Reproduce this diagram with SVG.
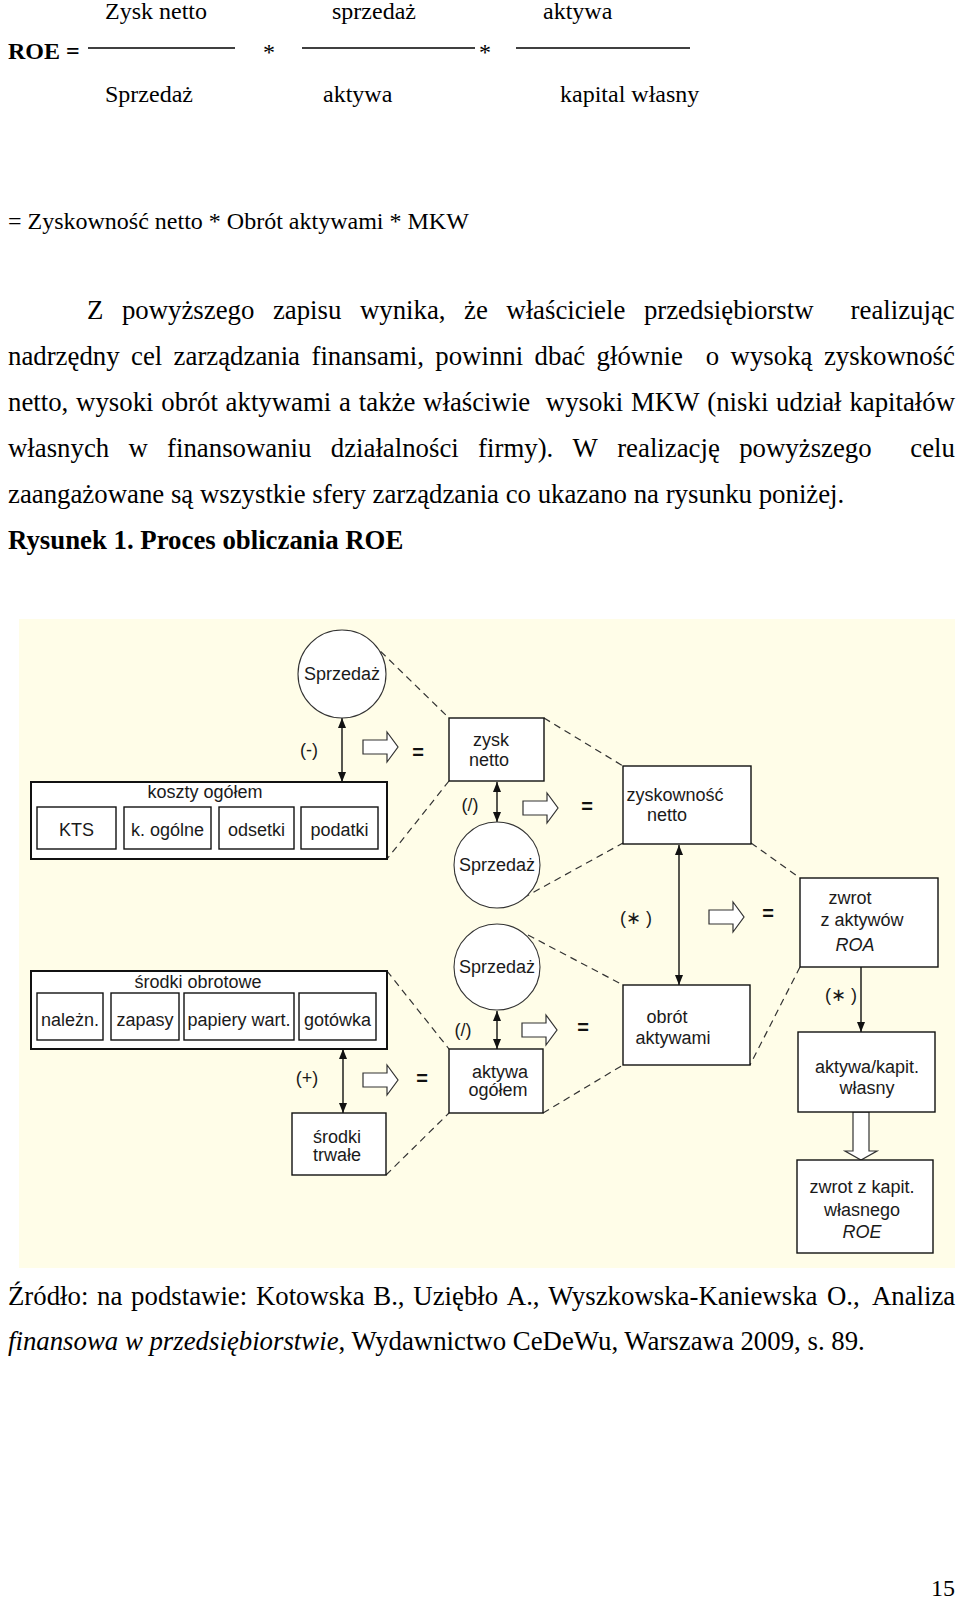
<svg xmlns="http://www.w3.org/2000/svg" width="960" height="1603" viewBox="0 0 960 1603">
<style>
.t{font-family:"Liberation Serif","Times New Roman",serif;font-size:24px;fill:#000}
.p{font-family:"Liberation Serif","Times New Roman",serif;font-size:26.8px;fill:#000}
.b{font-weight:bold}
.d{font-family:"Liberation Sans",Arial,sans-serif;font-size:18px;fill:#1a1a1a;text-anchor:middle}
.op{font-family:"Liberation Sans",Arial,sans-serif;font-size:18px;fill:#1a1a1a;text-anchor:middle}
.eq{font-family:"Liberation Sans",Arial,sans-serif;font-size:20px;font-weight:bold;fill:#111;text-anchor:middle}
.box{fill:#fff;stroke:#111;stroke-width:1.4}
.outer{fill:#fff;stroke:#111;stroke-width:2}
.circ{fill:#fff;stroke:#333;stroke-width:1.1}
.dash{stroke:#333;stroke-width:1.2;stroke-dasharray:7,5;fill:none}
.arr{stroke:#111;stroke-width:1.4;fill:none}
.hol{fill:#fff;stroke:#333;stroke-width:1.2}
</style>
<defs>
<marker id="ah" viewBox="0 0 10 8" refX="10" refY="4" markerWidth="10" markerHeight="8" markerUnits="userSpaceOnUse" orient="auto-start-reverse">
<path d="M0,0 L10,4 L0,8 Z" fill="#111"/>
</marker>
<path id="hr" d="M0,-7 H24 V-15 L35,0 L24,15 V7 H0 Z"/>
</defs>
<rect width="960" height="1603" fill="#fff"/>

<g id="formula">
<text class="t" x="105" y="19">Zysk netto</text>
<text class="t" x="332" y="19">sprzedaż</text>
<text class="t" x="543" y="19">aktywa</text>
<text class="t b" x="8" y="59">ROE =</text>
<line x1="88" y1="48" x2="235" y2="48" stroke="#000" stroke-width="1.6"/>
<text class="t" x="263" y="60">*</text>
<line x1="302" y1="48" x2="475" y2="48" stroke="#000" stroke-width="1.6"/>
<text class="t" x="479" y="60">*</text>
<line x1="516" y1="48" x2="690" y2="48" stroke="#000" stroke-width="1.6"/>
<text class="t" x="105" y="102">Sprzedaż</text>
<text class="t" x="323" y="102">aktywa</text>
<text class="t" x="560" y="102">kapital własny</text>
<text class="t" x="8" y="229" font-size="24.5">= Zyskowność netto * Obrót aktywami * MKW</text>
</g>

<g id="paragraph">
<text class="p" y="319"><tspan x="87">Z</tspan><tspan x="121.9">powyższego</tspan><tspan x="272.9">zapisu</tspan><tspan x="359.9">wynika,</tspan><tspan x="464">że</tspan><tspan x="506.3">właściciele</tspan><tspan x="643.9">przedsiębiorstw</tspan><tspan x="850.6">realizując</tspan></text>
<text class="p" y="365"><tspan x="8">nadrzędny</tspan><tspan x="131">cel</tspan><tspan x="173.6">zarządzania</tspan><tspan x="311.5">finansami,</tspan><tspan x="435.3">powinni</tspan><tspan x="534.6">dbać</tspan><tspan x="596.6">głównie</tspan><tspan x="705.8">o</tspan><tspan x="730.6">wysoką</tspan><tspan x="823.9">zyskowność</tspan></text>
<text class="p" y="411"><tspan x="8">netto,</tspan><tspan x="76.1">wysoki</tspan><tspan x="161.3">obrót</tspan><tspan x="225.6">aktywami</tspan><tspan x="339.1">a</tspan><tspan x="358.8">także</tspan><tspan x="423.1">właściwie</tspan><tspan x="545.8">wysoki</tspan><tspan x="631">MKW</tspan><tspan x="707.3">(niski</tspan><tspan x="776.1">udział</tspan><tspan x="849.4">kapitałów</tspan></text>
<text class="p" y="457"><tspan x="8">własnych</tspan><tspan x="128.5">w</tspan><tspan x="167.1">finansowaniu</tspan><tspan x="330.8">działalności</tspan><tspan x="478.1">firmy).</tspan><tspan x="572.6">W</tspan><tspan x="617.2">realizację</tspan><tspan x="739.2">powyższego</tspan><tspan x="910.3">celu</tspan></text>
<text class="p" x="8" y="503">zaangażowane są wszystkie sfery zarządzania co ukazano na rysunku poniżej.</text>
<text class="p b" x="8" y="549">Rysunek 1. Proces obliczania ROE</text>
</g>

<rect id="panel" x="19" y="619" width="936" height="649" fill="#FFFDE8"/>

<g id="connectors">
<line class="dash" x1="372" y1="643" x2="449" y2="718"/>
<line class="dash" x1="544" y1="718" x2="623" y2="766"/>
<line class="dash" x1="449" y1="781" x2="387" y2="859"/>
<line class="dash" x1="523" y1="898" x2="623" y2="843"/>
<line class="dash" x1="751" y1="843" x2="800" y2="878"/>
<line class="dash" x1="387" y1="971" x2="449" y2="1049"/>
<line class="dash" x1="528" y1="935" x2="623" y2="985"/>
<line class="dash" x1="543" y1="1113" x2="623" y2="1065"/>
<line class="dash" x1="800" y1="967" x2="750" y2="1065"/>
<line class="dash" x1="386" y1="1175" x2="449" y2="1113"/>
<line class="arr" x1="342" y1="718" x2="342" y2="782" marker-start="url(#ah)" marker-end="url(#ah)"/>
<line class="arr" x1="497" y1="782" x2="497" y2="822" marker-start="url(#ah)" marker-end="url(#ah)"/>
<line class="arr" x1="679" y1="845" x2="679" y2="985" marker-start="url(#ah)" marker-end="url(#ah)"/>
<line class="arr" x1="497" y1="1011" x2="497" y2="1049" marker-start="url(#ah)" marker-end="url(#ah)"/>
<line class="arr" x1="343" y1="1049" x2="343" y2="1113" marker-start="url(#ah)" marker-end="url(#ah)"/>
<line class="arr" x1="861" y1="967" x2="861" y2="1032" marker-end="url(#ah)"/>
<use href="#hr" class="hol" x="363" y="747"/>
<use href="#hr" class="hol" x="523" y="808"/>
<use href="#hr" class="hol" x="709" y="917"/>
<use href="#hr" class="hol" x="522" y="1030"/>
<use href="#hr" class="hol" x="363" y="1080"/>
<path class="hol" d="M853,1112 V1151 H845 L861,1160 L877,1151 H869 V1112 Z"/>
<text class="eq" x="418" y="759">=</text>
<text class="eq" x="587" y="813">=</text>
<text class="eq" x="768" y="920">=</text>
<text class="eq" x="583" y="1034">=</text>
<text class="eq" x="422" y="1085">=</text>
<text class="op" x="309" y="756">(-)</text>
<text class="op" x="470" y="811" fill="#223">(/)</text>
<text class="op" x="463" y="1036" fill="#223">(/)</text>
<text class="op" x="307" y="1084">(+)</text>
<text class="op" x="636" y="924">(∗ )</text>
<text class="op" x="841" y="1001">(∗ )</text>
</g>

<g id="sprzedaz1"><circle class="circ" cx="342" cy="674" r="44"/><text class="d" x="342" y="680">Sprzedaż</text></g>
<g id="sprzedaz2"><circle class="circ" cx="497" cy="865" r="43"/><text class="d" x="497" y="871">Sprzedaż</text></g>
<g id="sprzedaz3"><circle class="circ" cx="497" cy="967" r="43"/><text class="d" x="497" y="973">Sprzedaż</text></g>

<g id="zysk-netto"><rect class="box" x="449" y="718" width="95" height="63"/><text class="d" x="491" y="746">zysk</text><text class="d" x="489" y="766">netto</text></g>

<g id="koszty">
<rect class="outer" x="31" y="782" width="356" height="77"/>
<text class="d" x="205" y="798">koszty ogółem</text>
<rect class="box" x="37" y="807" width="79" height="42"/><text class="d" x="76.5" y="836">KTS</text>
<rect class="box" x="124" y="807" width="87" height="42"/><text class="d" x="167.5" y="836">k. ogólne</text>
<rect class="box" x="219" y="807" width="75" height="42"/><text class="d" x="256.5" y="836">odsetki</text>
<rect class="box" x="301" y="807" width="77" height="42"/><text class="d" x="339.5" y="836">podatki</text>
</g>

<g id="zyskownosc"><rect class="box" x="623" y="766" width="128" height="78"/><text class="d" x="675" y="801">zyskowność</text><text class="d" x="667" y="821">netto</text></g>

<g id="roa"><rect class="box" x="800" y="878" width="138" height="89"/><text class="d" x="850" y="904">zwrot</text><text class="d" x="862" y="926">z aktywów</text><text class="d" x="855" y="951" font-style="italic">ROA</text></g>

<g id="srodki-obrotowe">
<rect class="outer" x="31" y="971" width="356" height="78"/>
<text class="d" x="198" y="988">środki obrotowe</text>
<rect class="box" x="37" y="993" width="66" height="47"/><text class="d" x="70" y="1026">należn.</text>
<rect class="box" x="111" y="993" width="68" height="47"/><text class="d" x="145" y="1026">zapasy</text>
<rect class="box" x="184" y="993" width="110" height="47"/><text class="d" x="239" y="1026">papiery wart.</text>
<rect class="box" x="299" y="993" width="77" height="47"/><text class="d" x="337.5" y="1026">gotówka</text>
</g>

<g id="obrot"><rect class="box" x="623" y="985" width="127" height="80"/><text class="d" x="667" y="1023">obrót</text><text class="d" x="673" y="1044">aktywami</text></g>

<g id="aktywa-ogolem"><rect class="box" x="449" y="1049" width="94" height="64"/><text class="d" x="500" y="1078">aktywa</text><text class="d" x="498" y="1096">ogółem</text></g>

<g id="aktywa-kapit"><rect class="box" x="798" y="1032" width="137" height="80"/><text class="d" x="867" y="1073">aktywa/kapit.</text><text class="d" x="867" y="1094">własny</text></g>

<g id="srodki-trwale"><rect class="box" x="292" y="1113" width="94" height="62"/><text class="d" x="337" y="1143">środki</text><text class="d" x="337" y="1161">trwałe</text></g>

<g id="roe"><rect class="box" x="797" y="1160" width="136" height="93"/><text class="d" x="862" y="1193">zwrot z kapit.</text><text class="d" x="862" y="1216">własnego</text><text class="d" x="862" y="1238" font-style="italic">ROE</text></g>

<g id="source">
<text class="p" y="1305"><tspan x="8">Źródło:</tspan><tspan x="97.1">na</tspan><tspan x="131.1">podstawie:</tspan><tspan x="255.9">Kotowska</tspan><tspan x="373.3">B.,</tspan><tspan x="413.3">Uziębło</tspan><tspan x="506.8">A.,</tspan><tspan x="548.2">Wyszkowska-Kaniewska</tspan><tspan x="827">O.,</tspan><tspan x="871.9">Analiza</tspan></text>
<text class="p" x="8" y="1350"><tspan font-style="italic">finansowa w przedsiębiorstwie</tspan>, Wydawnictwo CeDeWu, Warszawa 2009, s. 89.</text>
<text class="t" x="931" y="1596">15</text>
</g>
</svg>
